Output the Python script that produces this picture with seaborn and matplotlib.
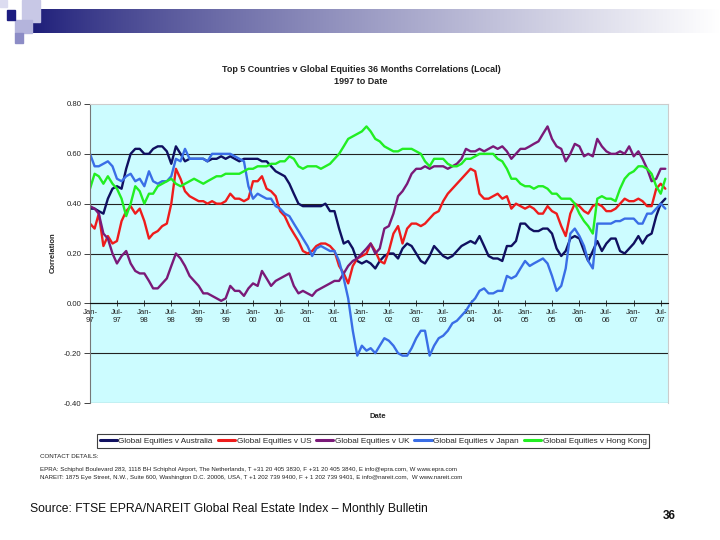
import numpy as np
import pandas as pd
import matplotlib
matplotlib.use("Agg")
import matplotlib.pyplot as plt
from matplotlib.patches import Rectangle
import seaborn as sns

# --------------------------------------------------
# DATA (monthly, Jan-97 .. Aug-07)
# --------------------------------------------------
start_month = "1997-01-01"

australia = [
    0.38, 0.38, 0.37, 0.36, 0.42, 0.46, 0.47, 0.46, 0.54, 0.60, 0.62, 0.62,
    0.60, 0.60, 0.62, 0.63, 0.63, 0.61, 0.56, 0.63, 0.60, 0.57, 0.58, 0.58,
    0.58, 0.58, 0.57, 0.58, 0.58, 0.59, 0.58, 0.59, 0.58, 0.57, 0.58, 0.58,
    0.58, 0.58, 0.57, 0.57, 0.55, 0.53, 0.52, 0.51, 0.48, 0.44, 0.40, 0.39,
    0.39, 0.39, 0.39, 0.39, 0.40, 0.37, 0.37, 0.30, 0.24, 0.25, 0.22, 0.17,
    0.16, 0.17, 0.16, 0.14, 0.17, 0.19, 0.20, 0.20, 0.18, 0.22, 0.24, 0.23,
    0.20, 0.17, 0.16, 0.19, 0.23, 0.21, 0.19, 0.18, 0.19, 0.21, 0.23, 0.24,
    0.25, 0.24, 0.27, 0.23, 0.19, 0.18, 0.18, 0.17, 0.23, 0.23, 0.25, 0.32,
    0.32, 0.30, 0.29, 0.29, 0.30, 0.30, 0.28, 0.22, 0.19, 0.21, 0.26, 0.27,
    0.26, 0.21, 0.17, 0.21, 0.25, 0.21, 0.24, 0.26, 0.26, 0.21, 0.20, 0.22,
    0.24, 0.27, 0.24, 0.27, 0.28, 0.35, 0.40, 0.42,
]

us = [
    0.32, 0.30, 0.36, 0.23, 0.27, 0.24, 0.25, 0.33, 0.37, 0.39, 0.36, 0.38,
    0.33, 0.26, 0.28, 0.29, 0.31, 0.32, 0.40, 0.54, 0.50, 0.45, 0.43, 0.42,
    0.41, 0.41, 0.40, 0.41, 0.40, 0.40, 0.41, 0.44, 0.42, 0.42, 0.41, 0.42,
    0.49, 0.49, 0.51, 0.46, 0.45, 0.43, 0.37, 0.35, 0.31, 0.28, 0.25, 0.21,
    0.20, 0.21, 0.23, 0.24, 0.24, 0.23, 0.21, 0.15, 0.12, 0.08, 0.15, 0.18,
    0.19, 0.20, 0.24, 0.21, 0.17, 0.16, 0.21, 0.28, 0.31, 0.24, 0.30, 0.32,
    0.32, 0.31, 0.32, 0.34, 0.36, 0.37, 0.41, 0.44, 0.46, 0.48, 0.50, 0.52,
    0.54, 0.53, 0.44, 0.42, 0.42, 0.43, 0.44, 0.42, 0.43, 0.38, 0.40, 0.39,
    0.38, 0.39, 0.38, 0.36, 0.36, 0.39, 0.37, 0.36, 0.31, 0.27, 0.36, 0.40,
    0.39, 0.37, 0.36, 0.39, 0.40, 0.39, 0.37, 0.37, 0.38, 0.40, 0.42, 0.41,
    0.41, 0.42, 0.41, 0.39, 0.39, 0.46, 0.48, 0.46,
]

uk = [
    0.39, 0.38, 0.36, 0.28, 0.26, 0.20, 0.16, 0.19, 0.21, 0.16, 0.13, 0.12,
    0.12, 0.09, 0.06, 0.06, 0.08, 0.10, 0.15, 0.20, 0.18, 0.15, 0.11, 0.09,
    0.07, 0.04, 0.04, 0.03, 0.02, 0.01, 0.02, 0.07, 0.05, 0.05, 0.03, 0.06,
    0.08, 0.07, 0.13, 0.10, 0.07, 0.09, 0.10, 0.11, 0.12, 0.07, 0.04, 0.05,
    0.04, 0.03, 0.05, 0.06, 0.07, 0.08, 0.09, 0.09, 0.12, 0.15, 0.17, 0.18,
    0.20, 0.22, 0.24, 0.20, 0.22, 0.30, 0.31, 0.36, 0.43, 0.45, 0.48, 0.52,
    0.54, 0.54, 0.55, 0.54, 0.55, 0.55, 0.55, 0.54, 0.55, 0.56, 0.58, 0.62,
    0.61, 0.61, 0.62, 0.61, 0.62, 0.63, 0.62, 0.63, 0.61, 0.58, 0.60, 0.62,
    0.62, 0.63, 0.64, 0.65, 0.68, 0.71, 0.66, 0.63, 0.62, 0.57, 0.60, 0.64,
    0.63, 0.59, 0.60, 0.59, 0.66, 0.63, 0.61, 0.60, 0.60, 0.61, 0.60, 0.63,
    0.59, 0.61, 0.58, 0.54, 0.49, 0.50, 0.54, 0.54,
]

japan = [
    0.60, 0.55, 0.55, 0.56, 0.57, 0.55, 0.50, 0.49, 0.51, 0.52, 0.49, 0.50,
    0.47, 0.53, 0.49, 0.48, 0.49, 0.49, 0.51, 0.58, 0.57, 0.62, 0.58, 0.58,
    0.58, 0.58, 0.57, 0.60, 0.60, 0.60, 0.60, 0.60, 0.59, 0.58, 0.57, 0.47,
    0.42, 0.44, 0.43, 0.42, 0.42, 0.39, 0.38, 0.36, 0.35, 0.32, 0.29, 0.26,
    0.23, 0.19, 0.22, 0.23, 0.22, 0.21, 0.21, 0.17, 0.10, 0.02, -0.11, -0.21,
    -0.17, -0.19, -0.18, -0.20, -0.17, -0.14, -0.15, -0.17, -0.20, -0.21, -0.21, -0.18,
    -0.14, -0.11, -0.11, -0.21, -0.17, -0.14, -0.13, -0.11, -0.08, -0.07, -0.05, -0.03,
    0.00, 0.02, 0.05, 0.06, 0.04, 0.04, 0.05, 0.05, 0.11, 0.10, 0.11, 0.14,
    0.17, 0.15, 0.16, 0.17, 0.18, 0.16, 0.11, 0.05, 0.07, 0.14, 0.28, 0.30,
    0.27, 0.23, 0.17, 0.14, 0.32, 0.32, 0.32, 0.32, 0.33, 0.33, 0.34, 0.34,
    0.34, 0.32, 0.32, 0.36, 0.36, 0.38, 0.40, 0.38,
]

hong_kong = [
    0.46, 0.52, 0.51, 0.48, 0.51, 0.48, 0.46, 0.42, 0.35, 0.40, 0.47, 0.45,
    0.40, 0.44, 0.44, 0.47, 0.48, 0.49, 0.50, 0.48, 0.47, 0.48, 0.49, 0.50,
    0.49, 0.48, 0.49, 0.50, 0.51, 0.51, 0.52, 0.52, 0.52, 0.52, 0.53, 0.54,
    0.54, 0.55, 0.55, 0.55, 0.56, 0.56, 0.57, 0.57, 0.59, 0.58, 0.55, 0.54,
    0.55, 0.55, 0.55, 0.54, 0.55, 0.56, 0.58, 0.60, 0.63, 0.66, 0.67, 0.68,
    0.69, 0.71, 0.69, 0.66, 0.65, 0.63, 0.62, 0.61, 0.61, 0.62, 0.62, 0.62,
    0.61, 0.60, 0.57, 0.55, 0.58, 0.58, 0.58, 0.56, 0.55, 0.55, 0.56, 0.58,
    0.58, 0.59, 0.60, 0.60, 0.60, 0.60, 0.58, 0.57, 0.54, 0.50, 0.50, 0.48,
    0.47, 0.47, 0.46, 0.47, 0.47, 0.46, 0.44, 0.44, 0.42, 0.42, 0.42, 0.40,
    0.36, 0.33, 0.31, 0.28, 0.42, 0.43, 0.42, 0.42, 0.41, 0.46, 0.50, 0.52,
    0.53, 0.55, 0.55, 0.54, 0.52, 0.47, 0.44, 0.50,
]

series_names = [
    "Global Equities v Australia",
    "Global Equities v US",
    "Global Equities v UK",
    "Global Equities v Japan",
    "Global Equities v Hong Kong",
]
series_colors = ["#101060", "#ee1c1c", "#7a1a78", "#3a6ee6", "#22ee22"]

y_ticks = [-0.40, -0.20, 0.00, 0.20, 0.40, 0.60, 0.80]

# --------------------------------------------------
# BUILD LONG DATAFRAME
# --------------------------------------------------
dates = pd.date_range(start_month, periods=len(australia), freq="MS")
wide = pd.DataFrame(
    dict(zip(series_names, [australia, us, uk, japan, hong_kong])), index=dates
)
wide.index.name = "Date"
df = wide.reset_index().melt(id_vars="Date", var_name="Series", value_name="Correlation")

# --------------------------------------------------
# PLOT
# --------------------------------------------------
sns.set_style("ticks")
plt.rcParams["font.family"] = ["Liberation Sans", "DejaVu Sans"]

W, H = 720, 540
fig = plt.figure(figsize=(7.2, 5.4), dpi=100)
fig.patch.set_facecolor("white")


def px_rect(x, y, w, h, color):
    fig.patches.append(
        Rectangle((x / W, 1 - (y + h) / H), w / W, h / H,
                  transform=fig.transFigure, color=color, zorder=0)
    )


# slide decoration (top-left squares + gradient bar)
grad_ax = fig.add_axes([32 / W, 1 - 33 / H, (W - 32) / W, 24 / H])
t = np.linspace(0, 1, 400) ** 0.8
left_c = np.array([28, 28, 120]) / 255
grad = left_c[None, :] * (1 - t[:, None]) + 1.0 * t[:, None]
grad_ax.imshow(grad[None, :, :], aspect="auto")
grad_ax.axis("off")

px_rect(0, 0, 7, 7, "#dcdcf0")
px_rect(22, 0, 18, 22, "#c8c8e6")
px_rect(15, 20, 17, 13, "#b4b4dc")
px_rect(15, 33, 8, 10, "#8c8cc6")
px_rect(7, 10, 8, 10, "#1c1c80")

# main chart
ax = fig.add_axes([90 / W, 1 - 403 / H, (668 - 90) / W, (403 - 104) / H])
ax.set_facecolor("#ccfcff")

sns.lineplot(
    data=df, x="Date", y="Correlation", hue="Series",
    hue_order=series_names, palette=series_colors,
    linewidth=1.7, errorbar=None, ax=ax,
)

handles, labels = ax.get_legend_handles_labels()
ax.get_legend().remove()

ax.set_ylim(-0.4, 0.8)
ax.set_xlim(pd.Timestamp("1997-01-01"), pd.Timestamp("2007-08-19"))
ax.set_yticks(y_ticks)
ax.set_yticklabels([f"{v:.2f}" for v in y_ticks])

xt = pd.date_range("1997-01-01", "2007-07-01", freq="6MS")
ax.set_xticks(xt)
ax.set_xticklabels([d.strftime("%b-\n%y") for d in xt], linespacing=1.0)
ax.tick_params(axis="x", direction="inout", length=4, width=0.6, pad=2,
               colors="#222222", labelsize=5.6)
ax.tick_params(axis="y", direction="out", length=4, width=0.6, pad=2,
               colors="#222222", labelsize=5.6)

ax.yaxis.grid(True, color="#222222", linewidth=0.8)
ax.get_ygridlines()[-1].set_visible(False)
ax.set_axisbelow(True)

ax.spines["bottom"].set_position(("data", 0))
ax.spines["bottom"].set_color("#111111")
ax.spines["bottom"].set_linewidth(0.8)
ax.spines["left"].set_color("#777777")
ax.spines["left"].set_linewidth(0.8)
for s in ["top", "right"]:
    ax.spines[s].set_visible(True)
    ax.spines[s].set_color("#cccccc")
    ax.spines[s].set_linewidth(0.8)

ax.set_xlabel("")
ax.set_ylabel("")

# titles and axis labels
fig.text(361 / W, 1 - 70 / H,
         "Top 5 Countries v Global Equities 36 Months Correlations (Local)",
         ha="center", va="center", fontsize=6.5, fontweight="bold", color="#222222")
fig.text(361 / W, 1 - 82 / H, "1997 to Date",
         ha="center", va="center", fontsize=6.5, fontweight="bold", color="#222222")
fig.text(53 / W, 1 - 253 / H, "Correlation", rotation=90,
         ha="center", va="center", fontsize=5.5, fontweight="bold", color="#222222")
fig.text(378 / W, 1 - 416 / H, "Date",
         ha="center", va="center", fontsize=5.5, fontweight="bold", color="#222222")

# legend
leg = fig.legend(
    handles, labels, loc="center", bbox_to_anchor=(373 / W, 1 - 441 / H),
    ncol=5, fontsize=5.9, frameon=True, fancybox=False, edgecolor="#111111",
    handlelength=2.1, handletextpad=0.2, columnspacing=0.6, borderpad=0.35,
)
leg.get_frame().set_linewidth(0.8)
for line in leg.get_lines():
    line.set_linewidth(2.2)

# contact details
fig.text(40 / W, 1 - 457 / H, "CONTACT DETAILS:", fontsize=4.5,
         va="center", color="#222222")
fig.text(40 / W, 1 - 469 / H,
         "EPRA: Schiphol Boulevard 283, 1118 BH Schiphol Airport, The Netherlands, "
         "T +31 20 405 3830, F +31 20 405 3840, E info@epra.com, W www.epra.com",
         fontsize=4.4, va="center", color="#222222")
fig.text(40 / W, 1 - 477 / H,
         "NAREIT: 1875 Eye Street, N.W., Suite 600, Washington D.C. 20006, USA, "
         "T +1 202 739 9400, F + 1 202 739 9401, E info@nareit.com,  W www.nareit.com",
         fontsize=4.4, va="center", color="#222222")

# footer
fig.text(30 / W, 1 - 509 / H,
         "Source: FTSE EPRA/NAREIT Global Real Estate Index \u2013 Monthly Bulletin",
         fontsize=8.7, va="center", color="#111111")
fig.text(669 / W, 1 - 516 / H, "36", fontsize=8.5, fontweight="bold",
         ha="center", va="center", color="#111111")

fig.savefig("out.png", dpi=100)
print("Saved: out.png")
